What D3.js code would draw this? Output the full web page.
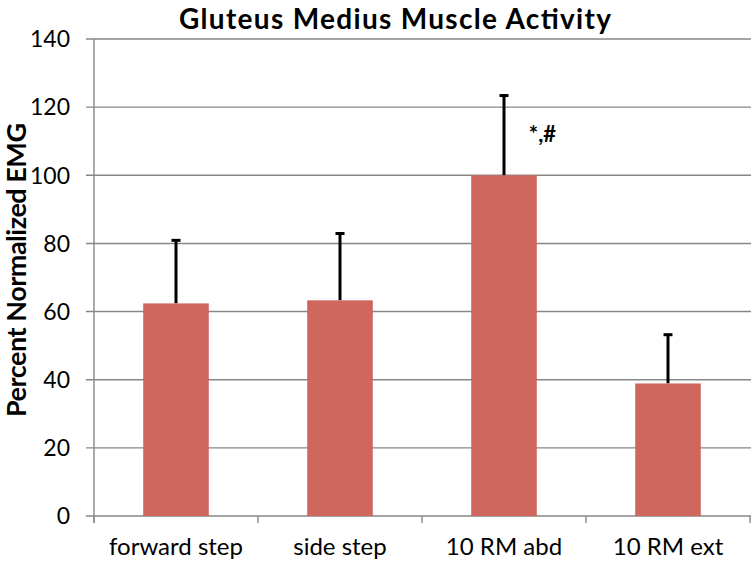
<!doctype html>
<html>
<head>
<meta charset="utf-8">
<title>Gluteus Medius Muscle Activity</title>
<script src="https://d3js.org/d3.v7.min.js"></script>
<style>
  body { margin: 0; background: #fff; }
  svg text { font-family: Lato, "Open Sans", sans-serif; fill: #000; }
  .grid line { stroke: #878787; stroke-width: 1.4px; }
  .bar { fill: #d0675f; }
  .err { stroke: #000; stroke-width: 3px; fill: none; }
</style>
</head>
<body>
<div id="chart"></div>
<script>
// chart data
var categories = ["forward step", "side step", "10 RM abd", "10 RM ext"];
var means = [62.4, 63.3, 100, 38.9];
var errTops = [81.2, 83.2, 123.7, 53.5];
var yTicks = [0, 20, 40, 60, 80, 100, 120, 140];
var sigLabel = "*,#";
var sigIndex = 2;

var width = 751, height = 562;

var svg = d3.select("#chart").append("svg")
    .attr("width", width)
    .attr("height", height);

// scales
var x = d3.scaleBand()
    .domain(categories)
    .range([94, 750])
    .paddingInner(0.6)
    .paddingOuter(0.3);

var y = d3.scaleLinear()
    .domain([0, 140])
    .range([516, 39]);

// title
svg.append("text")
    .attr("x", 395)
    .attr("y", 29)
    .attr("text-anchor", "middle")
    .attr("textLength", 432)
    .attr("lengthAdjust", "spacing")
    .style("font-size", "28px")
    .style("font-weight", "bold")
    .text("Gluteus Medius Muscle Activity");

// gridlines
svg.append("g")
    .attr("class", "grid")
    .selectAll("line")
    .data(yTicks)
    .join("line")
    .attr("x1", 86)
    .attr("x2", 751)
    .attr("y1", function(d) { return y(d); })
    .attr("y2", function(d) { return y(d); });

// y axis line
svg.append("line")
    .attr("x1", 94).attr("x2", 94)
    .attr("y1", y(140)).attr("y2", y(0) + 7)
    .style("stroke", "#878787")
    .style("stroke-width", "1.4px");

// x category ticks
var step = x.step();
svg.append("g")
    .attr("class", "grid")
    .selectAll("line")
    .data(d3.range(categories.length + 1))
    .join("line")
    .attr("x1", function(i) { return x.range()[0] + i * step; })
    .attr("x2", function(i) { return x.range()[0] + i * step; })
    .attr("y1", y(0))
    .attr("y2", y(0) + 7);

// y tick labels
svg.append("g")
    .selectAll("text")
    .data(yTicks)
    .join("text")
    .attr("x", 70)
    .attr("y", function(d) { return y(d); })
    .attr("dy", "0.36em")
    .attr("text-anchor", "end")
    .style("font-size", "23px")
    .text(function(d) { return d; });

// x labels
svg.append("g")
    .selectAll("text")
    .data(categories)
    .join("text")
    .attr("x", function(d) { return x(d) + x.bandwidth() / 2; })
    .attr("y", 555)
    .attr("text-anchor", "middle")
    .style("font-size", "24px")
    .text(function(d) { return d; });

// y axis title
svg.append("text")
    .attr("transform", "translate(26," + 270 + ") rotate(-90)")
    .attr("text-anchor", "middle")
    .attr("textLength", 294)
    .attr("lengthAdjust", "spacing")
    .style("font-size", "27px")
    .style("font-weight", "bold")
    .text("Percent Normalized EMG");

// error bars (drawn first so bars sit over the stem base)
var errs = svg.append("g");
categories.forEach(function(c, i) {
  var cx = x(c) + x.bandwidth() / 2;
  errs.append("line")
      .attr("class", "err")
      .attr("x1", cx).attr("x2", cx)
      .attr("y1", y(means[i])).attr("y2", y(errTops[i]));
  errs.append("line")
      .attr("class", "err")
      .attr("x1", cx - 4.5).attr("x2", cx + 4.5)
      .attr("y1", y(errTops[i]) + 1).attr("y2", y(errTops[i]) + 1);
});

// bars
svg.append("g")
    .selectAll("rect")
    .data(categories)
    .join("rect")
    .attr("class", "bar")
    .attr("x", function(d) { return x(d); })
    .attr("width", x.bandwidth())
    .attr("y", function(d, i) { return y(means[i]); })
    .attr("height", function(d, i) { return y(0) - y(means[i]); });

// significance marker
svg.append("text")
    .attr("x", x(categories[sigIndex]) + x.bandwidth() - 8)
    .attr("y", 142)
    .style("font-size", "22px")
    .style("font-weight", "bold")
    .text(sigLabel);
</script>
</body>
</html>
